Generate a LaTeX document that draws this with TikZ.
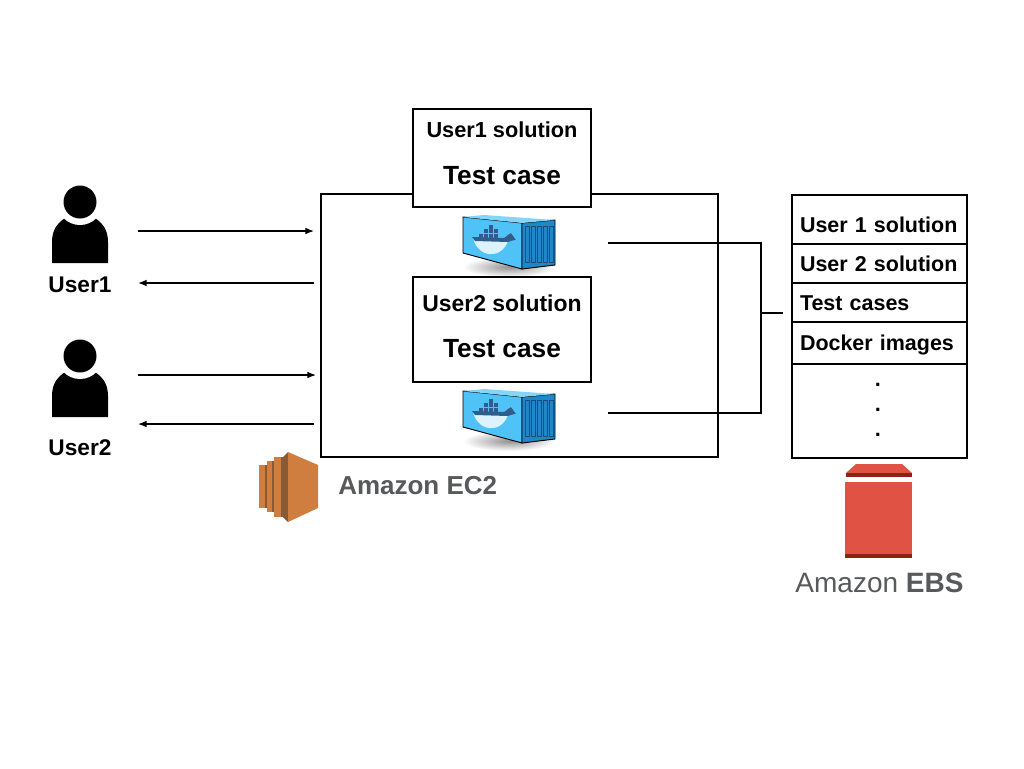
\documentclass[tikz,border=0pt]{standalone}
\usepackage{fontspec}
\setmainfont{Liberation Sans}
\usetikzlibrary{arrows.meta}

\definecolor{ecorange}{HTML}{CF7E40}
\definecolor{ecdark}{HTML}{8A5A35}
\definecolor{ebsred}{HTML}{E05243}
\definecolor{ebsdark}{HTML}{8C2318}
\definecolor{logogray}{HTML}{58595B}
\definecolor{boxblue}{HTML}{4FC3F7}
\definecolor{sideblue}{HTML}{1F86C8}
\definecolor{whalenavy}{HTML}{2F5D8C}

\tikzset{
  box/.style={draw,line width=1.4pt,fill=white,inner sep=0pt},
  conn/.style={line width=1.4pt},
  flow/.style={line width=0.9pt,-{Latex[length=6.5pt,width=5pt]}},
  small/.style={font=\fontsize{16.3}{18}\selectfont\bfseries},
  big/.style={font=\fontsize{19.7}{22}\selectfont\bfseries},
  label/.style={font=\fontsize{17}{20}\selectfont\bfseries},
  rowtext/.style={font=\fontsize{16.1}{18}\selectfont\bfseries,text width=119.25pt,align=left,
                  minimum height=29.25pt,inner xsep=6pt,inner ysep=0pt},
  pics/user/.style={code={
    \fill (-28,31) -- (-28,10) .. controls (-28,-3) and (-22,-9) .. (-15,-14)
          -- (15,-14) .. controls (22,-9) and (28,-3) .. (28,10) -- (28,31) -- cycle;
    \fill[white] (0,-30) circle [radius=23*0.75pt];
    \fill (0,-30) circle [radius=16.5*0.75pt];
  }},
  pics/dockerbox/.style={code={
    \shade[inner color=gray!85,outer color=white,shading=radial] (0,24) ellipse [x radius=46*0.75pt,y radius=10*0.75pt];
    \draw[line width=0.7pt,fill=boxblue] (-46,-26) -- (13,-20) -- (13,26) -- (-46,10) -- cycle;
    \draw[line width=0.7pt,fill=sideblue] (13,-20) -- (46,-23) -- (46,22) -- (13,26) -- cycle;
    \fill[boxblue!70!white] (-46,-26) -- (-25,-28) -- (46,-23) -- (13,-20) -- cycle;
    \foreach \i in {0,1,2,3,4} {
      \draw[line width=0.5pt,whalenavy!80!black] (16+\i*6,-17) rectangle (20+\i*6,19);
    }
    % whale
    \fill[white!80!boxblue] (-36,-5) .. controls (-31,15) and (-8,17) .. (-1,-2)
          .. controls (2,-4) and (5,-2) .. (7,-3) -- (2,-10) .. controls (-2,-8) and (-3,-6) .. (-5,-5) -- cycle;
    \fill[whalenavy] (-37,-6) -- (-5,-5) .. controls (-3,-6) and (-2,-8) .. (2,-10) -- (7,-3)
          .. controls (4,-2) and (2,-3) .. (-1,-1) -- (-34,-2) -- cycle;
    \foreach \x/\y in {-30/-9,-25/-9,-20/-9,-15/-9,-25/-14,-20/-14,-15/-14,-20/-18} {
      \fill[whalenavy] (\x,\y) rectangle ++(4.4,4.4);
    }
  }},
}

\begin{document}
\begin{tikzpicture}[x=0.75pt,y=-0.75pt]
  \useasboundingbox (0,0) rectangle (1024,768);

  % users
  \pic at (80,232) {user};
  \pic at (80,386) {user};
  \node[label] (user1) at (80,285) {User1};
  \node[label] (user2) at (80,448) {User2};

  % ec2 instance
  \node[box,fill=none,minimum width=297.75pt,minimum height=197.25pt] (ec2) at (519.5,325.5) {};
  \pic at (509,243) {dockerbox};
  \pic at (509,417) {dockerbox};
  \node[box,minimum width=133.5pt,minimum height=73.5pt] (sol1) at (502,158) {};
  \node[box,minimum width=133.5pt,minimum height=78.75pt] (sol2) at (502,329.5) {};
  \node[small] (sol1name) at (502,130) {User1 solution};
  \node[big]   (sol1case) at (502,176) {Test case};
  \node[small,font=\fontsize{17.2}{20}\selectfont\bfseries] (sol2name) at (502,303) {User2 solution};
  \node[big]   (sol2case) at (502,349) {Test case};

  % user traffic
  \coordinate (in1a)  at (138,231);
  \coordinate (in1b)  at (314,231);
  \coordinate (out1a) at (314,283);
  \coordinate (out1b) at (138,283);
  \coordinate (in2a)  at (138,375);
  \coordinate (in2b)  at (316,375);
  \coordinate (out2a) at (314,424);
  \coordinate (out2b) at (138,424);
  \draw[flow] (in1a)  -- (in1b);
  \draw[flow] (out1a) -- (out1b);
  \draw[flow] (in2a)  -- (in2b);
  \draw[flow] (out2a) -- (out2b);

  % ec2 logo
  \foreach \xa/\xb/\ya/\yb in {259/267/465/508,267/274/461/512,274/283/457/517} {
    \fill[ecorange] (\xa,\ya) rectangle (\xb,\yb);
    \fill[ecdark] (\xb-2.5,\ya) rectangle (\xb,\yb);
  }
  \fill[ecdark] (283,457) -- (288,452) -- (288,522) -- (283,517) -- cycle;
  \fill[ecorange] (288,452) -- (318,465) -- (318,508) -- (288,522) -- cycle;
  \node[anchor=west,inner sep=0pt,text=logogray,font=\fontsize{19.5}{22}\selectfont\bfseries] (ec2name) at (338,486) {Amazon EC2};

  % ebs table
  \node[box,fill=none,minimum width=131.25pt,minimum height=197.25pt] (ebs) at (879.5,326.5) {};
  \node[rowtext] (row1) at (879.5,224.5) {\mbox{User 1 solution}};
  \node[rowtext] (row2) at (879.5,263.5) {\mbox{User 2 solution}};
  \node[rowtext,minimum height=27.75pt] (row3) at (879.5,303.5) {Test cases};
  \node[rowtext] (row4) at (879.5,344.5) {Docker images};
  \foreach \r in {row1,row2,row3,row4} {
    \draw[conn] (\r.south west) -- (\r.south east);
  }
  \node[small,anchor=base] (dot1) at (878,386) {.};
  \node[small,anchor=base] (dot2) at (878,411) {.};
  \node[small,anchor=base] (dot3) at (878,436) {.};

  % links to ebs
  \coordinate (dock1) at (608,243);
  \coordinate (dock2) at (608,413);
  \coordinate (joint1) at (761,243);
  \coordinate (joint2) at (761,413);
  \coordinate (jointm) at (761,313);
  \coordinate (ebsend) at (783,313);
  \draw[conn] (dock1) -- (joint1) -- (joint2) -- (dock2);
  \draw[conn] (jointm) -- (ebsend);

  % ebs logo
  \fill[ebsred] (846,473) -- (856,464) -- (902,464) -- (912,473) -- cycle;
  \fill[ebsdark] (846,473) rectangle (912,477);
  \fill[ebsred] (845,482) rectangle (912,555);
  \fill[ebsdark] (845,554) rectangle (912,558);
  \node[text=logogray,inner sep=0pt,font=\fontsize{21}{24}\selectfont] (ebsname) at (879.5,583) {Amazon \textbf{EBS}};
\end{tikzpicture}
\end{document}
